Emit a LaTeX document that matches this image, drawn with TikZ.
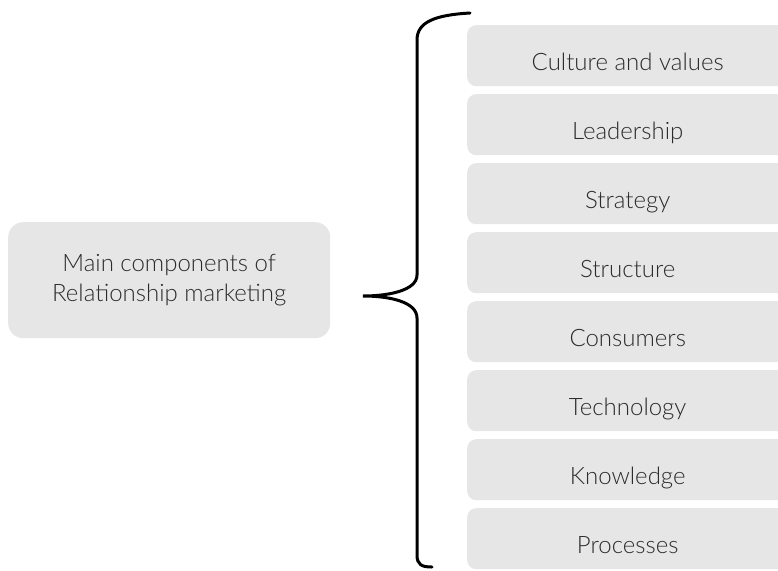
\documentclass[tikz,border=0pt]{standalone}
\usepackage{fontspec}
\setmainfont{Lato Light}[BoldFont=Lato]
\begin{document}
\begin{tikzpicture}[x=1pt,y=-1pt,
  item/.style={fill=boxgray, rounded corners=9pt, minimum width=321pt, minimum height=61pt, anchor=north west, inner sep=0pt, text height=29pt, text depth=0pt, text=textgray, font=\fontsize{24}{28}\selectfont},
  mainbox/.style={fill=boxgray, rounded corners=15pt, minimum width=322pt, minimum height=116pt, anchor=north west, inner sep=0pt, text=textgray, align=center, font=\fontsize{24}{30}\selectfont},
  bracepath/.style={line width=3pt, line cap=round, black}]
\definecolor{boxgray}{HTML}{E6E6E6}
\definecolor{textgray}{HTML}{2B2B2B}
\useasboundingbox (0,0) rectangle (778,570);
\clip (0,0) rectangle (778,570);
\node[mainbox] (main) at (8,222) {Main components of\\Relationship marketing};
\foreach \t [count=\i from 0] in {Culture and values,Leadership,Strategy,Structure,Consumers,Technology,Knowledge,Processes}{
  \node[item] (b\i) at (467,{25+69*\i}) {\t};
}
\draw[bracepath] (470,13) .. controls (435,15) and (417,22) .. (417,40)
  -- (417,275) .. controls (417,290) and (390,296) .. (363,296)
  .. controls (390,296) and (417,302) .. (417,318)
  -- (417,555) .. controls (417,565) and (422,567) .. (432,567);
\end{tikzpicture}
\end{document}
